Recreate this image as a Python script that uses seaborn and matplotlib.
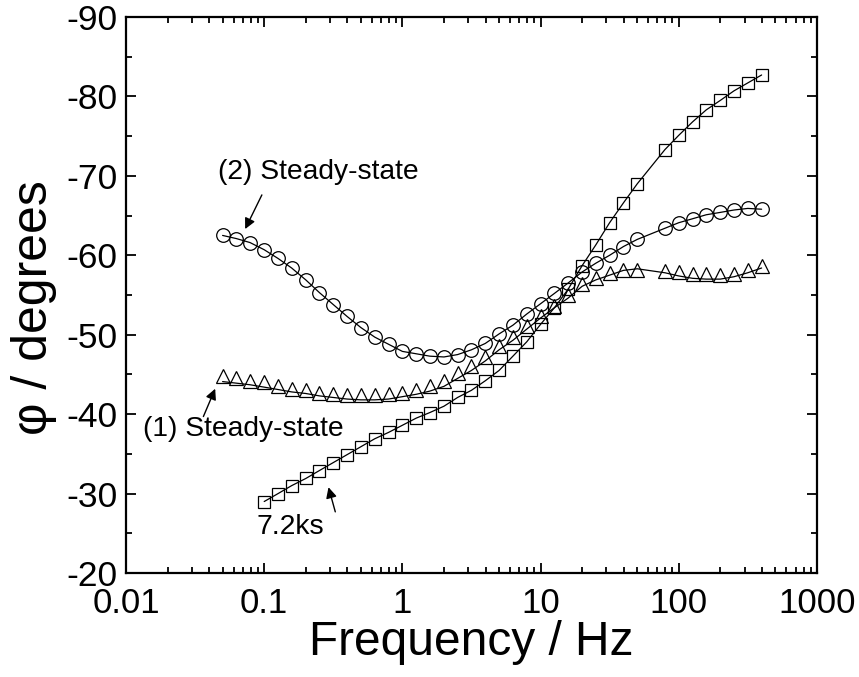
import numpy as np
import pandas as pd
import matplotlib
matplotlib.use("Agg")
import matplotlib.pyplot as plt
import seaborn as sns
from matplotlib.ticker import FixedLocator, LogLocator, MultipleLocator, NullFormatter

# ---------------- data ----------------
freq_sq = [0.1, 0.126, 0.158, 0.2, 0.251, 0.316, 0.398, 0.501, 0.631, 0.794,
           1.0, 1.26, 1.58, 2.0, 2.51, 3.16, 3.98, 5.01, 6.31, 7.94,
           10.0, 12.6, 15.8, 20.0, 25.1, 31.6, 39.8, 50.1,
           79.4, 100.0, 126.0, 158.0, 200.0, 251.0, 316.0, 398.0]
phase_72ks = [-29.0, -30.0, -31.0, -31.9, -32.9, -33.9, -34.9, -35.9, -36.9, -37.7,
              -38.6, -39.5, -40.2, -41.0, -42.1, -43.0, -44.2, -45.5, -47.3, -49.1,
              -51.3, -53.4, -55.7, -58.7, -61.3, -64.1, -66.6, -69.0,
              -73.3, -75.1, -76.8, -78.3, -79.5, -80.7, -81.7, -82.7]

freq_ss = [0.05, 0.063, 0.079, 0.1, 0.126, 0.158, 0.2, 0.251, 0.316, 0.398,
           0.501, 0.631, 0.794, 1.0, 1.26, 1.58, 2.0, 2.51, 3.16, 3.98,
           5.01, 6.31, 7.94, 10.0, 12.6, 15.8, 20.0, 25.1, 31.6, 39.8, 50.1,
           79.4, 100.0, 126.0, 158.0, 200.0, 251.0, 316.0, 398.0]
phase_ss2 = [-62.5, -62.1, -61.6, -60.7, -59.6, -58.4, -56.9, -55.3, -53.8, -52.3,
             -50.9, -49.7, -48.8, -47.9, -47.6, -47.3, -47.2, -47.5, -48.1, -48.9,
             -50.1, -51.2, -52.6, -53.9, -55.2, -56.5, -57.9, -59.0, -60.0, -61.1, -62.0,
             -63.4, -64.1, -64.6, -65.1, -65.4, -65.7, -65.9, -65.8]
phase_ss1 = [-44.8, -44.6, -44.2, -44.0, -43.6, -43.2, -43.0, -42.7, -42.5, -42.4,
             -42.4, -42.4, -42.5, -42.7, -43.0, -43.5, -44.2, -45.2, -46.1, -47.2,
             -48.6, -49.7, -51.1, -52.3, -53.6, -55.0, -56.4, -57.1, -57.8, -58.1, -58.2,
             -58.0, -57.9, -57.7, -57.6, -57.5, -57.7, -58.1, -58.6]
fit_ss1 = [-44.1, -43.9, -43.7, -43.4, -43.1, -42.8, -42.6, -42.3, -42.1, -41.9,
           -41.8, -41.8, -41.9, -42.2, -42.5, -42.9, -43.5, -44.5, -45.5, -46.7,
           -48.1, -49.3, -50.7, -52.1, -53.4, -54.6, -56.1, -56.9, -57.5, -58.1, -58.3,
           -57.8, -57.4, -57.1, -57.0, -57.0, -57.3, -57.8, -58.4]

x_ticks = [0.01, 0.1, 1, 10, 100, 1000]
x_ticklabels = ["0.01", "0.1", "1", "10", "100", "1000"]
y_ticks = [-90, -80, -70, -60, -50, -40, -30, -20]

df_sq = pd.DataFrame({"f": freq_sq, "phi": phase_72ks})
df_c = pd.DataFrame({"f": freq_ss, "phi": phase_ss2})
df_t = pd.DataFrame({"f": freq_ss, "phi": phase_ss1, "fit": fit_ss1})

# ---------------- figure ----------------
sns.set_theme(style="ticks")
plt.rcParams["font.family"] = ["Liberation Sans", "DejaVu Sans"]
plt.rcParams["axes.unicode_minus"] = False
plt.rcParams["text.color"] = "black"
plt.rcParams["axes.labelcolor"] = "black"
plt.rcParams["xtick.color"] = "black"
plt.rcParams["ytick.color"] = "black"

fig = plt.figure(figsize=(8.59, 6.77), dpi=100)
ax = fig.add_axes([0.1467, 0.1536, 0.8043, 0.8213])

line_kw = dict(color="black", linewidth=0.9, estimator=None, sort=False)

# fit lines
sns.lineplot(data=df_sq, x="f", y="phi", ax=ax, **line_kw)
sns.lineplot(data=df_c, x="f", y="phi", ax=ax, **line_kw)
sns.lineplot(data=df_t, x="f", y="fit", ax=ax, **line_kw)

# markers (open)
mk = dict(linestyle="", markerfacecolor="none", markeredgecolor="black",
          markeredgewidth=0.9, estimator=None, sort=False, color="black")
sns.lineplot(data=df_sq, x="f", y="phi", ax=ax, marker="s", markersize=8.4, **mk)
sns.lineplot(data=df_c, x="f", y="phi", ax=ax, marker="o", markersize=9.8, **mk)
sns.lineplot(data=df_t, x="f", y="phi", ax=ax, marker="^", markersize=10.0, **mk)

ax.set_xscale("log")
ax.set_xlim(0.01, 1000)
ax.set_ylim(-20, -90)

ax.xaxis.set_major_locator(FixedLocator(x_ticks))
ax.set_xticklabels(x_ticklabels)
ax.xaxis.set_minor_locator(LogLocator(base=10, subs=np.arange(2, 10)))
ax.xaxis.set_minor_formatter(NullFormatter())
ax.yaxis.set_major_locator(FixedLocator(y_ticks))
ax.yaxis.set_minor_locator(MultipleLocator(5))

ax.tick_params(which="both", direction="in", top=True, right=True, width=1.3,
               colors="black")
ax.tick_params(which="major", length=7.5)
ax.tick_params(which="minor", length=4)
ax.tick_params(axis="y", labelsize=25.5, pad=6)
ax.tick_params(axis="x", labelsize=25, pad=10)
for s in ax.spines.values():
    s.set_linewidth(1.6)
    s.set_color("black")

ax.set_xlabel("Frequency / Hz", fontsize=34.5, labelpad=0, color="black")
ax.set_ylabel("φ / degrees", fontsize=36, color="black")
ax.yaxis.set_label_coords(-0.1, 0.478)

# annotations
ap = dict(arrowstyle="-|>", color="black", lw=1.0, mutation_scale=16, shrinkA=0, shrinkB=0)
ax.annotate("", xy=(0.0728, -63.3), xytext=(0.0962, -67.6), arrowprops=ap)
ax.text(0.0464, -70.5, "(2) Steady-state", fontsize=20.3, va="center", ha="left", color="black")
ax.annotate("", xy=(0.0442, -43.2), xytext=(0.0363, -39.7), arrowprops=ap)
ax.text(0.0132, -38.1, "(1) Steady-state", fontsize=20.3, va="center", ha="left", color="black")
ax.annotate("", xy=(0.292, -30.8), xytext=(0.327, -27.7), arrowprops=ap)
ax.text(0.0875, -25.8, "7.2ks", fontsize=20.3, va="center", ha="left", color="black")

legend = ax.get_legend()
if legend is not None:
    legend.remove()

fig.savefig("out.png", dpi=100)
